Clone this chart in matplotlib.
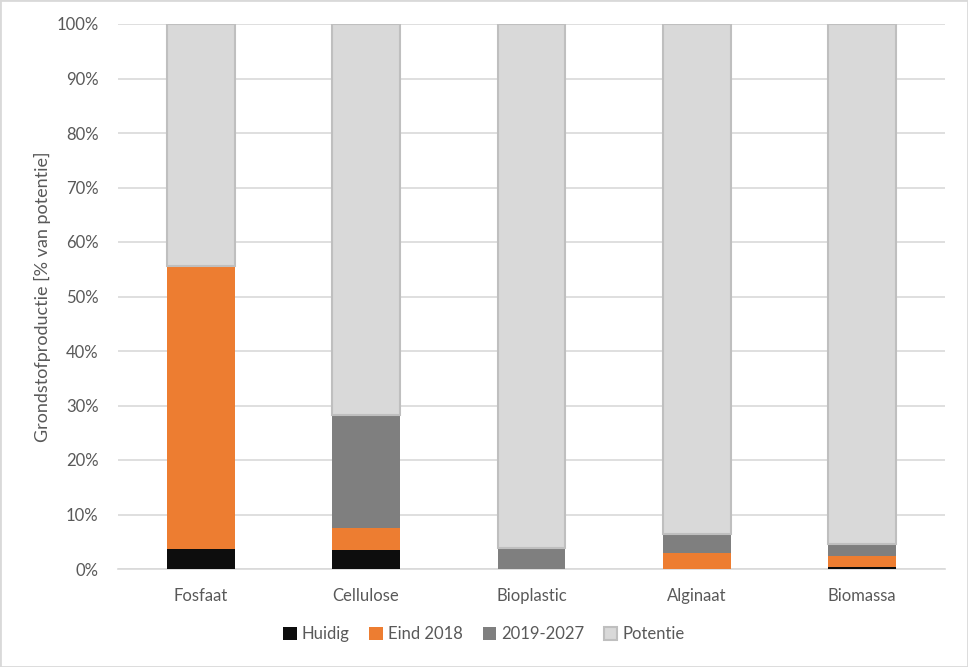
import matplotlib
matplotlib.use("Agg")
import matplotlib.pyplot as plt
import numpy as np
from matplotlib.patches import Rectangle

categories = ["Fosfaat", "Cellulose", "Bioplastic", "Alginaat", "Biomassa"]
huidig = [3.7, 3.5, 0.0, 0.0, 0.3]
eind2018 = [51.9, 4.0, 0.0, 3.0, 2.0]
periode = [0.0, 20.8, 3.8, 3.4, 2.3]
series_names = ["Huidig", "Eind 2018", "2019-2027", "Potentie"]
yticks = [0, 10, 20, 30, 40, 50, 60, 70, 80, 90, 100]

potentie = [100 - a - b - c for a, b, c in zip(huidig, eind2018, periode)]

plt.rcParams['font.family'] = ['Lato', 'DejaVu Sans']
txt = '#595959'

fig = plt.figure(figsize=(9.68, 6.67), dpi=100)
ax = fig.add_axes([118/968, 1-569/667, (945-118)/968, (569-24)/667])

x = np.arange(len(categories))
w = 0.41
colors = ['#0d0d0d', '#ed7d31', '#7f7f7f', '#d9d9d9']
bottom = np.zeros(len(categories))
for name, vals, col in zip(series_names, [huidig, eind2018, periode, potentie], colors):
    vals = np.array(vals)
    if name == "Potentie":
        ax.bar(x, vals, w, bottom=bottom, color=col, edgecolor='#bfbfbf', linewidth=1.5, label=name, zorder=3)
    else:
        ax.bar(x, vals, w, bottom=bottom, color=col, linewidth=0, label=name, zorder=3)
    bottom += vals

ax.set_xlim(-0.5, len(categories) - 0.5)
ax.set_ylim(0, 100)
ax.set_yticks(yticks)
ax.set_yticklabels([f"{t}%" for t in yticks])
ax.set_xticks(x)
ax.set_xticklabels(categories)
ax.grid(axis='y', color='#d9d9d9', linewidth=1.2, zorder=0)
for s in ['top', 'right', 'left']:
    ax.spines[s].set_visible(False)
ax.spines['bottom'].set_color('#d9d9d9')
ax.spines['bottom'].set_linewidth(1.2)
ax.tick_params(axis='both', length=0, colors=txt, labelsize=12)
ax.tick_params(axis='x', pad=14)
ax.tick_params(axis='y', pad=14)
ax.set_ylabel("Grondstofproductie [% van potentie]", color=txt, fontsize=13, labelpad=4)

leg = fig.legend(loc='center', bbox_to_anchor=(0.5, 1-634/667), ncol=4, frameon=False,
                 fontsize=12, handlelength=0.8, handleheight=0.8, handletextpad=0.3, columnspacing=1.2,
                 labelcolor=txt)

fig.add_artist(Rectangle((0, 0), 1, 1, transform=fig.transFigure, fill=False, edgecolor='#d9d9d9', linewidth=2))
fig.savefig("out.png", dpi=100)
